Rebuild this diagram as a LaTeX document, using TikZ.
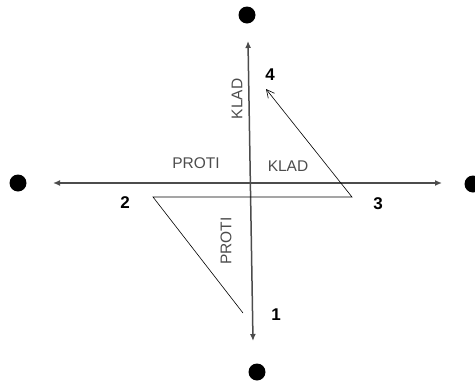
\documentclass[tikz,border=0pt]{standalone}
\usepackage{fontspec}
\setmainfont{Liberation Sans}
\usetikzlibrary{arrows.meta}

\begin{document}
\begin{tikzpicture}[
    x=1pt, y=-1pt,
    pole/.style={circle, fill=black, inner sep=0pt, minimum size=17pt},
    axis/.style={draw=black!70, line width=1.5pt, {Latex[length=7pt,width=6pt]}-{Latex[length=7pt,width=6pt]}},
    walk/.style={draw, line width=0.6pt},
    num/.style={font=\fontsize{17}{17}\selectfont\bfseries},
    word/.style={text=black!70, font=\fontsize{15.5}{16}\selectfont, inner sep=0pt}
]
\useasboundingbox (0,0) rectangle (475,381);

% poles
\node[pole] (north) at (247,15) {};
\node[pole] (west) at (18,183) {};
\node[pole] (east) at (473,184) {};
\node[pole] (south) at (257,372) {};

% axes
\coordinate (ntip) at (248,41);
\coordinate (stip) at (253,341);
\coordinate (wtip) at (53,183);
\coordinate (etip) at (442,183);
\draw[axis] (wtip) -- (etip);
\draw[axis] (stip) -- (ntip);

% path 1-2-3-4
\coordinate (p1) at (243,313);
\coordinate (p2) at (153,197);
\coordinate (p3) at (352,197);
\coordinate (p4) at (266,89);
\draw[walk, -{Straight Barb[length=8pt,width=8pt]}] (p1) -- (p2) -- (p3) -- (p4);

% numbers
\node[num] (n1) at (276,315) {1};
\node[num] (n2) at (125,203) {2};
\node[num] (n3) at (378,204) {3};
\node[num] (n4) at (270,75) {4};

% labels
\node[word] (protiw) at (196,163) {PROTI};
\node[word] (klade) at (288,166) {KLAD};
\node[word, rotate=90] (kladn) at (237,99) {KLAD};
\node[word, rotate=90] (protis) at (226,241) {PROTI};
\end{tikzpicture}
\end{document}
